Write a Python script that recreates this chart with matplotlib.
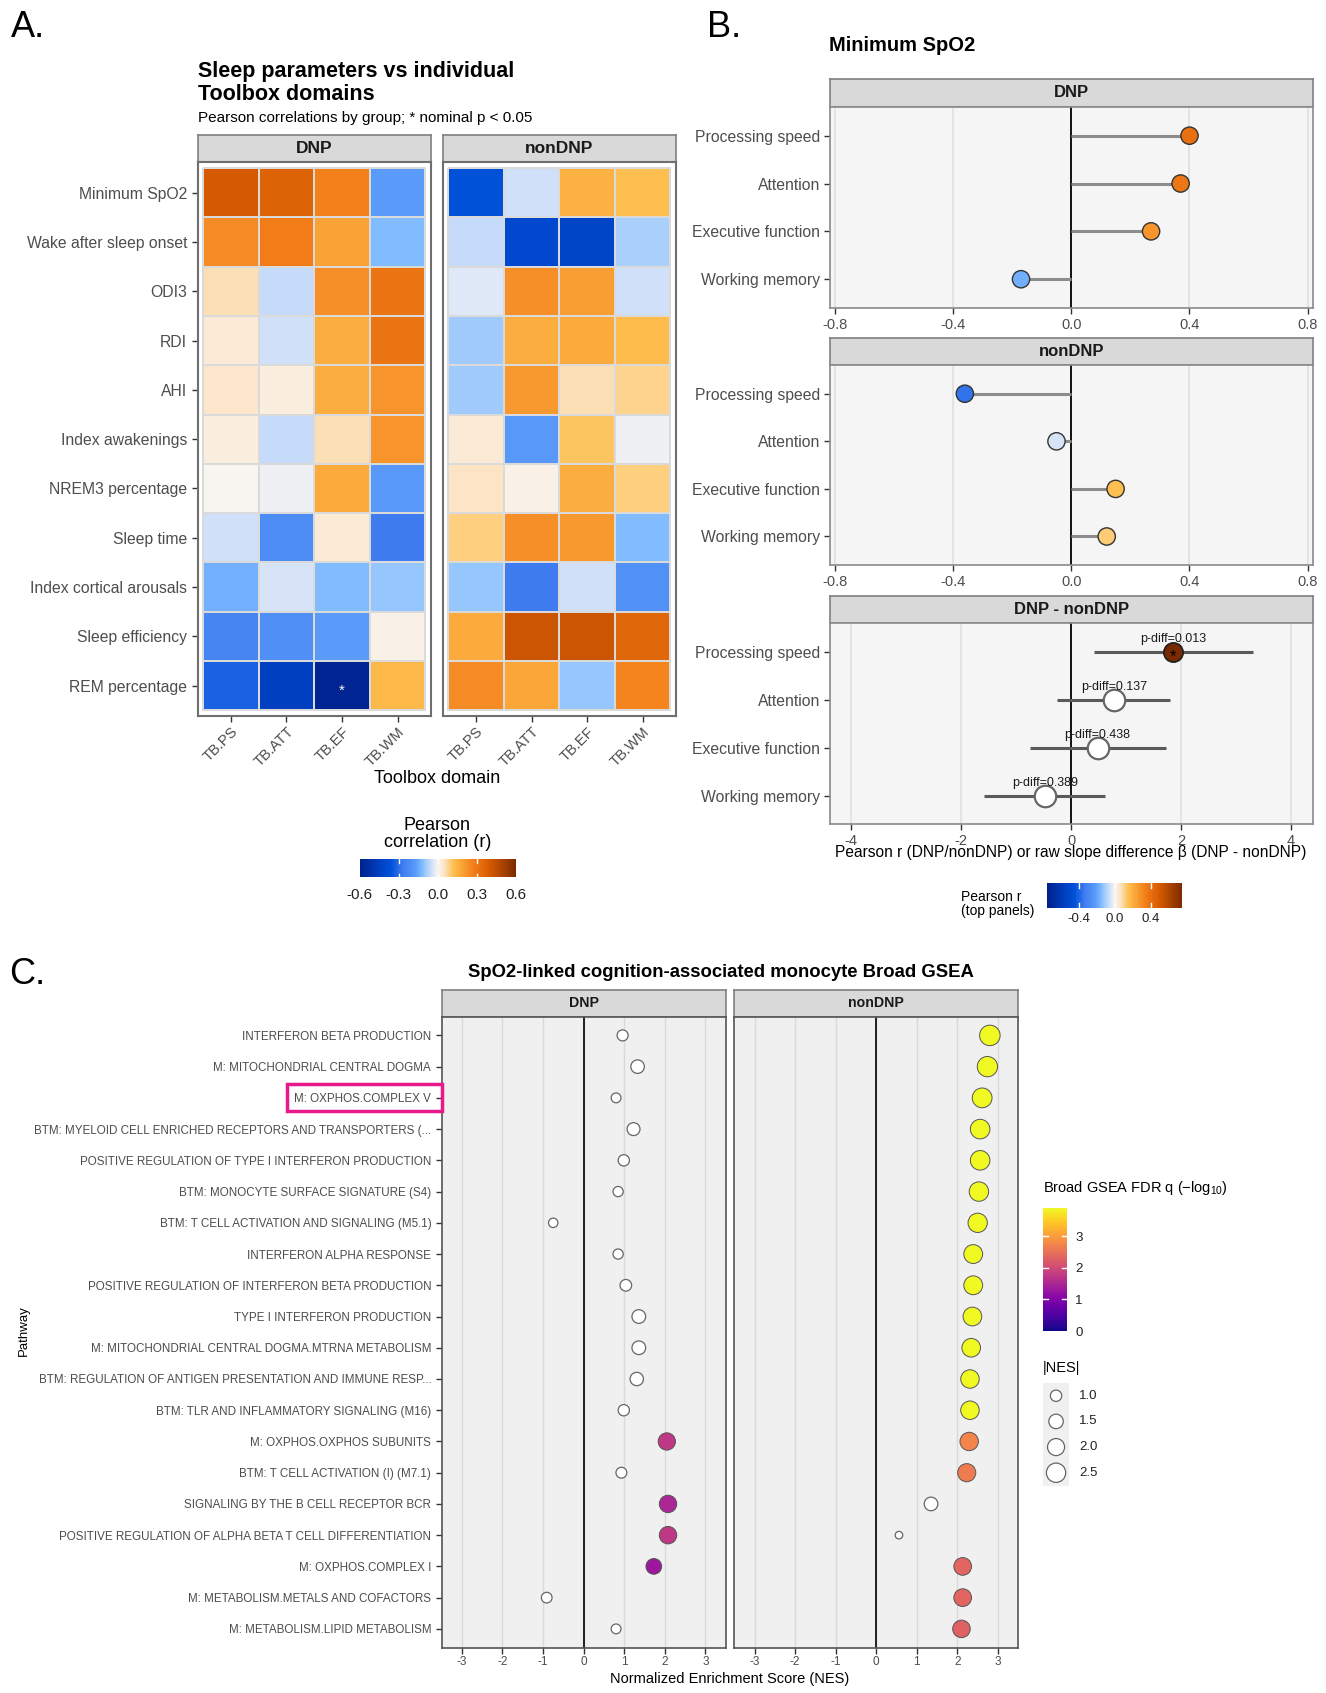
import matplotlib
matplotlib.use("Agg")
import matplotlib.pyplot as plt
import matplotlib.transforms as mtransforms
from matplotlib.colors import LinearSegmentedColormap, Normalize
from matplotlib.cm import ScalarMappable
from matplotlib.patches import Rectangle
import numpy as np

plt.rcParams['font.family'] = ['Liberation Sans', 'DejaVu Sans']
plt.rcParams['axes.unicode_minus'] = False
plt.rcParams['mathtext.fontset'] = 'custom'
plt.rcParams['mathtext.rm'] = 'Liberation Sans'

nan = np.nan

# ---------------- Panel A data ----------------
sleep_params = ["Minimum SpO2", "Wake after sleep onset", "ODI3", "RDI", "AHI",
                "Index awakenings", "NREM3 percentage", "Sleep time",
                "Index cortical arousals", "Sleep efficiency", "REM percentage"]
tb_domains = ["TB.PS", "TB.ATT", "TB.EF", "TB.WM"]

r_dnp = np.array([
    [0.40, 0.37, 0.27, -0.17],
    [0.24, 0.28, 0.19, -0.12],
    [0.06, -0.06, 0.23, 0.30],
    [0.03, -0.05, 0.16, 0.30],
    [0.04, 0.02, 0.16, 0.22],
    [0.02, -0.06, 0.06, 0.22],
    [0.00, -0.01, 0.17, -0.18],
    [-0.05, -0.22, 0.03, -0.27],
    [-0.14, -0.04, -0.12, -0.10],
    [-0.24, -0.21, -0.17, 0.01],
    [-0.32, -0.45, -0.58, 0.14],
])
r_nondnp = np.array([
    [-0.36, -0.05, 0.15, 0.12],
    [-0.06, -0.40, -0.42, -0.08],
    [-0.03, 0.23, 0.20, -0.05],
    [-0.09, 0.16, 0.17, 0.13],
    [-0.09, 0.21, 0.06, 0.08],
    [0.03, -0.18, 0.11, -0.01],
    [0.05, 0.01, 0.16, 0.09],
    [0.09, 0.23, 0.21, -0.12],
    [-0.10, -0.27, -0.05, -0.20],
    [0.17, 0.42, 0.42, 0.35],
    [0.24, 0.18, -0.10, 0.26],
])
sig_dnp = [("REM percentage", "TB.EF")]
sig_nondnp = []

# ---------------- Panel B data ----------------
cog_domains = ["Processing speed", "Attention", "Executive function", "Working memory"]
spo2_r_dnp = [0.40, 0.37, 0.27, -0.17]
spo2_r_nondnp = [-0.36, -0.05, 0.15, 0.12]
slope_diff = [1.85, 0.78, 0.48, -0.48]
slope_lo = [0.42, -0.25, -0.75, -1.58]
slope_hi = [3.30, 1.80, 1.72, 0.62]
p_diff = [0.013, 0.137, 0.438, 0.389]

# ---------------- Panel C data ----------------
pathways = [
    "INTERFERON BETA PRODUCTION",
    "M: MITOCHONDRIAL CENTRAL DOGMA",
    "M: OXPHOS.COMPLEX V",
    "BTM: MYELOID CELL ENRICHED RECEPTORS AND TRANSPORTERS (...",
    "POSITIVE REGULATION OF TYPE I INTERFERON PRODUCTION",
    "BTM: MONOCYTE SURFACE SIGNATURE (S4)",
    "BTM: T CELL ACTIVATION AND SIGNALING (M5.1)",
    "INTERFERON ALPHA RESPONSE",
    "POSITIVE REGULATION OF INTERFERON BETA PRODUCTION",
    "TYPE I INTERFERON PRODUCTION",
    "M: MITOCHONDRIAL CENTRAL DOGMA.MTRNA METABOLISM",
    "BTM: REGULATION OF ANTIGEN PRESENTATION AND IMMUNE RESP...",
    "BTM: TLR AND INFLAMMATORY SIGNALING (M16)",
    "M: OXPHOS.OXPHOS SUBUNITS",
    "BTM: T CELL ACTIVATION (I) (M7.1)",
    "SIGNALING BY THE B CELL RECEPTOR BCR",
    "POSITIVE REGULATION OF ALPHA BETA T CELL DIFFERENTIATION",
    "M: OXPHOS.COMPLEX I",
    "M: METABOLISM.METALS AND COFACTORS",
    "M: METABOLISM.LIPID METABOLISM",
]
nes_dnp = [0.96, 1.33, 0.80, 1.23, 0.99, 0.85, -0.75, 0.85, 1.04, 1.36,
           1.36, 1.31, 0.99, 2.05, 0.93, 2.08, 2.08, 1.73, -0.91, 0.80]
fdr_dnp = [nan, nan, nan, nan, nan, nan, nan, nan, nan, nan,
           nan, nan, nan, 1.75, nan, 1.50, 1.75, 1.30, nan, nan]
nes_nondnp = [2.80, 2.74, 2.61, 2.56, 2.56, 2.53, 2.50, 2.39, 2.39, 2.37,
              2.34, 2.31, 2.31, 2.29, 2.23, 1.35, 0.56, 2.13, 2.13, 2.10]
fdr_nondnp = [3.90, 3.90, 3.90, 3.90, 3.90, 3.90, 3.90, 3.90, 3.90, 3.90,
              3.90, 3.90, 3.90, 2.75, 2.65, nan, nan, 2.35, 2.35, 2.30]
highlight = "M: OXPHOS.COMPLEX V"
nes_legend = [1.0, 1.5, 2.0, 2.5]

# ---------------- palettes ----------------
div_vals = [-0.6, -0.45, -0.36, -0.27, -0.17, -0.12, -0.05, 0, 0.05, 0.12,
            0.17, 0.23, 0.28, 0.40, 0.6]
div_cols = ['#00208a', '#0040c0', '#0050d8', '#3f7cef', '#5a9cfa', '#80bcff',
            '#cfe0f8', '#f8f5f2', '#fde4c4', '#fdc050', '#fbab3c', '#f69028',
            '#f27c18', '#d55a00', '#7a2a00']
div_cmap = LinearSegmentedColormap.from_list(
    'div', list(zip([(v + 0.6) / 1.2 for v in div_vals], div_cols)))
norm_a = Normalize(-0.6, 0.6)
norm_b = Normalize(-0.75, 0.75, clip=True)
norm_c = Normalize(0, 3.9)
plasma = plt.get_cmap('plasma')

GRAY_TXT = '#4d4d4d'
W, H = 1228, 1567
fig = plt.figure(figsize=(13.26, 16.93), dpi=100)


def box(x0, y0, x1, y1):
    return fig.add_axes([x0 / W, 1 - y1 / H, (x1 - x0) / W, (y1 - y0) / H])


def ftext(x, y, s, **kw):
    return fig.text(x / W, 1 - y / H, s, **kw)


def strip(x0, y0, x1, y1, label, size, edge='#7f7f7f'):
    ax = box(x0, y0, x1, y1)
    ax.set_facecolor('#d9d9d9')
    ax.set_xticks([])
    ax.set_yticks([])
    for sp in ax.spines.values():
        sp.set_color(edge)
        sp.set_linewidth(1.2)
    ax.text(0.5, 0.5, label, ha='center', va='center', fontweight='bold',
            fontsize=size, color='#1a1a1a', transform=ax.transAxes)
    return ax


def borders(ax, color, lw):
    for sp in ax.spines.values():
        sp.set_color(color)
        sp.set_linewidth(lw)


# ================= Panel A =================
ftext(10, 25, 'A.', fontsize=26, va='center')
ftext(183, 77, 'Sleep parameters vs individual\nToolbox domains', fontsize=15.5,
      fontweight='bold', va='center', linespacing=1.15)
ftext(183, 109, 'Pearson correlations by group; * nominal p < 0.05', fontsize=11, va='center')


def heatmap(ax, r, sig, show_y):
    nrow, ncol = r.shape
    ax.pcolormesh(np.arange(ncol + 1) + 0.5, np.arange(nrow + 1) + 0.5, r,
                  cmap=div_cmap, norm=norm_a, edgecolors='#dadada', linewidth=1.2)
    for param, dom in sig:
        ax.text(tb_domains.index(dom) + 1, sleep_params.index(param) + 1.1, '*',
                color='white', ha='center', va='center', fontsize=11)
    ax.set_xlim(0.4, ncol + 0.6)
    ax.set_ylim(nrow + 0.62, 0.38)
    ax.set_xticks(np.arange(1, ncol + 1))
    ax.set_xticklabels(tb_domains, rotation=45, ha='right', va='top',
                       rotation_mode='anchor')
    ax.set_yticks(np.arange(1, nrow + 1))
    ax.tick_params(colors='#333333', labelcolor=GRAY_TXT, labelsize=11.3, length=4, width=1)
    ax.tick_params(axis='x', labelsize=10.5, pad=2)
    if show_y:
        ax.set_yticklabels(sleep_params)
    else:
        ax.set_yticklabels([])
        ax.tick_params(axis='y', length=0)
    borders(ax, '#6f6f6f', 1.5)


strip(183, 125, 399, 150, 'DNP', 12.5)
strip(410, 125, 626, 150, 'nonDNP', 12.5)
heatmap(box(183, 150, 399, 663), r_dnp, sig_dnp, True)
heatmap(box(410, 150, 626, 663), r_nondnp, sig_nondnp, False)
ftext(405, 721, 'Toolbox domain', fontsize=13, ha='center', va='center')
ftext(405, 772, 'Pearson\ncorrelation (r)', fontsize=13, ha='center', va='center', linespacing=1.0)

cax_a = box(333, 795, 478, 812)
cb_a = fig.colorbar(ScalarMappable(norm=norm_a, cmap=div_cmap), cax=cax_a, orientation='horizontal')
cb_a.outline.set_visible(False)
cb_a.set_ticks([-0.6, -0.3, 0.0, 0.3, 0.6])
cb_a.set_ticklabels(['-0.6', '-0.3', '0.0', '0.3', '0.6'])
cax_a.tick_params(length=0, labelsize=11, labelcolor='#222222', pad=8)
for v in [-0.3, 0.0, 0.3]:
    cax_a.axvline(v, ymin=0, ymax=0.2, color='white', lw=1)
    cax_a.axvline(v, ymin=0.8, ymax=1, color='white', lw=1)

# ================= Panel B =================
ftext(655, 25, 'B.', fontsize=26, va='center')
ftext(768, 42, 'Minimum SpO2', fontsize=14.5, fontweight='bold', va='center')

rows_b = np.arange(1, len(cog_domains) + 1)


def style_b(ax, ticks, ticklabels, xlim):
    ax.set_facecolor('#f5f5f5')
    ax.set_xlim(*xlim)
    ax.set_ylim(len(cog_domains) + 0.6, 0.4)
    ax.set_xticks(ticks)
    ax.set_xticklabels(ticklabels)
    ax.set_yticks(rows_b)
    ax.set_yticklabels(cog_domains)
    ax.grid(axis='x', color='#dedede', lw=1.1)
    ax.set_axisbelow(True)
    ax.axvline(0, color='black', lw=1.3, zorder=1)
    ax.tick_params(colors='#333333', labelcolor=GRAY_TXT, labelsize=11.3, length=4, width=1)
    ax.tick_params(axis='x', labelsize=10.5, pad=3)
    borders(ax, '#8a8a8a', 1.2)


def lollipop(ax, vals):
    for y, v in zip(rows_b, vals):
        ax.plot([0, v], [y, y], color='#8c8c8c', lw=2.2, zorder=2, solid_capstyle='butt')
    ax.scatter(vals, rows_b, s=155, c=vals, cmap=div_cmap, norm=norm_b,
               edgecolors='#333333', linewidths=1.0, zorder=3)


r_ticks = [-0.8, -0.4, 0.0, 0.4, 0.8]
r_labels = ['-0.8', '-0.4', '0.0', '0.4', '0.8']
strip(769, 73, 1216, 99, 'DNP', 12)
ax_b1 = box(769, 99, 1216, 285)
style_b(ax_b1, r_ticks, r_labels, (-0.815, 0.818))
lollipop(ax_b1, spo2_r_dnp)

strip(769, 313, 1216, 338, 'nonDNP', 12)
ax_b2 = box(769, 338, 1216, 523)
style_b(ax_b2, r_ticks, r_labels, (-0.815, 0.818))
lollipop(ax_b2, spo2_r_nondnp)

strip(769, 552, 1216, 577, 'DNP - nonDNP', 12)
ax_b3 = box(769, 577, 1216, 763)
style_b(ax_b3, [-4, -2, 0, 2, 4], ['-4', '-2', '0', '2', '4'], (-4.38, 4.40))
for y, lo, hi in zip(rows_b, slope_lo, slope_hi):
    ax_b3.plot([lo, hi], [y, y], color='#5a5a5a', lw=2.2, zorder=2, solid_capstyle='butt')
for y, est, p in zip(rows_b, slope_diff, p_diff):
    if p < 0.05:
        ax_b3.scatter([est], [y], s=190, color=div_cmap(norm_b(est)),
                      edgecolors='#222222', linewidths=1.3, zorder=3)
        ax_b3.text(est, y + 0.1, '*', ha='center', va='center', fontsize=12,
                   color='black', zorder=4)
    else:
        ax_b3.scatter([est], [y], s=240, color='white', edgecolors='#666666',
                      linewidths=1.6, zorder=3)
    ax_b3.text(est, y - 0.27, 'p-diff=%.3f' % p, ha='center', va='center',
               fontsize=9, color='#1a1a1a', zorder=5)

ftext(992, 789, u'Pearson r (DNP/nonDNP) or raw slope difference \u03b2 (DNP - nonDNP)',
      fontsize=11.2, ha='center', va='center')

ftext(890, 837, 'Pearson r\n(top panels)', fontsize=10, ha='left', va='center', linespacing=1.0)
cax_b = box(970, 817, 1095, 840)
cb_b = fig.colorbar(ScalarMappable(norm=Normalize(-0.75, 0.75), cmap=div_cmap), cax=cax_b,
                    orientation='horizontal')
cb_b.outline.set_visible(False)
cb_b.set_ticks([-0.4, 0.0, 0.4])
cb_b.set_ticklabels(['-0.4', '0.0', '0.4'])
cax_b.tick_params(length=0, labelsize=9.5, labelcolor='#222222', pad=4)
for v in [-0.4, 0.0, 0.4]:
    cax_b.axvline(v, ymin=0, ymax=0.2, color='white', lw=1)
    cax_b.axvline(v, ymin=0.8, ymax=1, color='white', lw=1)

# ================= Panel C =================
ftext(8, 902, 'C.', fontsize=26, va='center')
ftext(668, 900, 'SpO2-linked cognition-associated monocyte Broad GSEA', fontsize=13.3,
      fontweight='bold', ha='center', va='center')

nes_abs = np.abs(np.concatenate([nes_dnp, nes_nondnp]))
nes_min, nes_max = nes_abs.min(), nes_abs.max()


def nes_size(v):
    # area scale, diameters ~7..19 px
    d = np.sqrt(49 + 312 * (np.abs(np.asarray(v)) - nes_min) / (nes_max - nes_min))
    return (d * 0.7776) ** 2


rows_c = np.arange(1, len(pathways) + 1)


def gsea_panel(ax, nes, fdr, show_y):
    ax.set_facecolor('#f0f0f0')
    ax.set_xlim(-3.5, 3.5)
    ax.set_ylim(len(pathways) + 0.6, 0.4)
    ax.set_xticks(np.arange(-3, 4))
    ax.set_xticklabels([str(t) for t in range(-3, 4)])
    ax.grid(axis='x', color='#d9d9d9', lw=1.0)
    ax.set_axisbelow(True)
    ax.axvline(0, color='black', lw=1.2, zorder=1)
    nes = np.asarray(nes)
    fdr = np.asarray(fdr)
    sizes = nes_size(nes)
    ns = np.isnan(fdr)
    ax.scatter(nes[ns], rows_c[ns], s=sizes[ns], color='white', edgecolors='#666666',
               linewidths=0.9, zorder=3)
    ax.scatter(nes[~ns], rows_c[~ns], s=sizes[~ns], c=fdr[~ns], cmap=plasma, norm=norm_c,
               edgecolors='#555555', linewidths=0.7, zorder=3)
    ax.set_yticks(rows_c)
    ax.tick_params(colors='#333333', labelcolor=GRAY_TXT, labelsize=8.4, length=4, width=1)
    ax.tick_params(axis='x', labelsize=8.5, pad=2)
    if show_y:
        ax.set_yticklabels(pathways)
    else:
        ax.set_yticklabels([])
        ax.tick_params(axis='y', length=0)
    borders(ax, '#555555', 1.2)


strip(409, 916, 672, 941, 'DNP', 10.2)
strip(680, 916, 943, 941, 'nonDNP', 10.2)
ax_c1 = box(409, 941, 672, 1525)
gsea_panel(ax_c1, nes_dnp, fdr_dnp, True)
ax_c2 = box(680, 941, 943, 1525)
gsea_panel(ax_c2, nes_nondnp, fdr_nondnp, False)

# pink box around the highlighted pathway label
hy = pathways.index(highlight) + 1
trans = mtransforms.blended_transform_factory(fig.transFigure, ax_c1.transData)
fig.add_artist(Rectangle((266 / W, hy + 0.43), (409 - 266) / W, -0.86, transform=trans,
                         fill=False, edgecolor='#e8198b', lw=2.5, clip_on=False))

ftext(22, 1232, 'Pathway', rotation=90, fontsize=9.5, ha='center', va='center')
ftext(676, 1554, 'Normalized Enrichment Score (NES)', fontsize=10.5, ha='center', va='center')

# colour legend
ftext(966, 1100, r'Broad GSEA FDR q ($\mathregular{-log_{10}}$)', fontsize=10.5, ha='left', va='center')
cax_c = box(966, 1118, 988, 1232)
cb_c = fig.colorbar(ScalarMappable(norm=norm_c, cmap=plasma), cax=cax_c)
cb_c.outline.set_visible(False)
cb_c.set_ticks([0, 1, 2, 3])
cax_c.tick_params(length=0, labelsize=9.5, labelcolor='#222222', pad=6)
for v in [1, 2, 3]:
    cax_c.axhline(v, xmin=0, xmax=0.2, color='white', lw=1)
    cax_c.axhline(v, xmin=0.8, xmax=1, color='white', lw=1)

# size legend
ftext(966, 1266, '|NES|', fontsize=10.5, ha='left', va='center')
lax = box(966, 1280, 990, 1375)
lax.set_facecolor('#f0f0f0')
lax.set_xticks([])
lax.set_yticks([])
for sp in lax.spines.values():
    sp.set_visible(False)
lax.set_xlim(0, 1)
lax.set_ylim(len(nes_legend), 0)
key_y = np.arange(len(nes_legend)) + 0.5
lax.scatter(np.full(len(nes_legend), 0.5), key_y, s=nes_size(nes_legend), color='white',
            edgecolors='#666666', linewidths=0.9, clip_on=False)
ltrans = mtransforms.blended_transform_factory(lax.transAxes, lax.transData)
for y, v in zip(key_y, nes_legend):
    lax.text(1.4, y, '%.1f' % v, transform=ltrans, fontsize=9.5, va='center', ha='left',
             color='#222222')

fig.savefig('out.png', dpi=100)
